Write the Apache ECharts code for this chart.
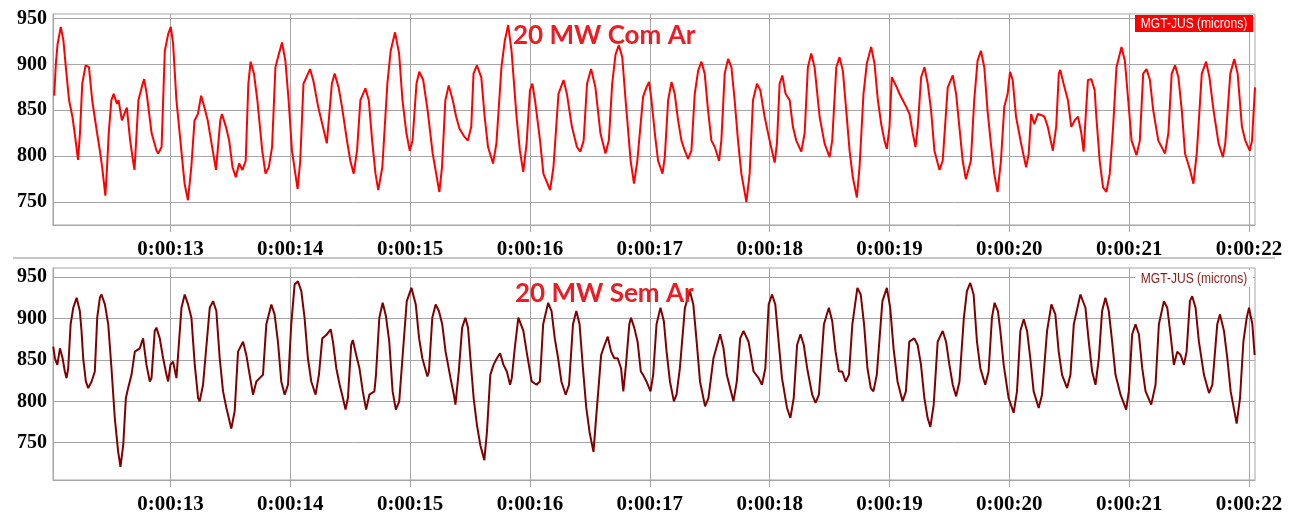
<!DOCTYPE html>
<html>
<head>
<meta charset="utf-8">
<title>MGT-JUS</title>
<script src="https://cdn.jsdelivr.net/npm/echarts@6/dist/echarts.min.js"></script>
<style>
  html, body { margin: 0; padding: 0; background: #ffffff; }
  #chart { width: 1298px; height: 518px; }
</style>
</head>
<body>
<div id="chart"></div>
<script>
// Shaft vibration, MGT-JUS probe, in microns, against elapsed time (seconds).
const tickSeconds = [13, 14, 15, 16, 17, 18, 19, 20, 21, 22];
const tickLabels = ['0:00:13', '0:00:14', '0:00:15', '0:00:16', '0:00:17',
                    '0:00:18', '0:00:19', '0:00:20', '0:00:21', '0:00:22'];
const valueTicks = [750, 800, 850, 900, 950];

const titles = ['20 MW Com Ar', '20 MW Sem Ar'];
const probeName = 'MGT-JUS (microns)';

// Upper trace: with air
const comAr = [
  [12.030,866],[12.044,901],[12.058,922],[12.085,941],[12.107,926],[12.127,897],[12.154,861],[12.182,843],[12.201,825],[12.229,796],
  [12.245,825],[12.264,879],[12.292,899],[12.320,897],[12.347,861],[12.388,825],[12.410,807],[12.430,788],[12.457,757],[12.471,788],
  [12.485,825],[12.507,861],[12.526,868],[12.554,857],[12.567,861],[12.595,839],[12.636,853],[12.664,817],[12.691,792],[12.700,785],
  [12.733,861],[12.760,875],[12.780,884],[12.802,868],[12.843,825],[12.884,806],[12.898,803],[12.926,810],[12.953,915],[12.981,933],
  [13.003,941],[13.022,923],[13.050,861],[13.091,806],[13.118,770],[13.146,752],[13.174,788],[13.201,839],[13.229,846],[13.256,866],
  [13.284,853],[13.311,839],[13.339,817],[13.380,785],[13.416,839],[13.430,846],[13.463,832],[13.490,817],[13.518,788],[13.545,777],
  [13.573,792],[13.601,785],[13.628,795],[13.650,879],[13.669,903],[13.697,890],[13.725,861],[13.766,806],[13.793,781],[13.821,788],
  [13.848,810],[13.876,897],[13.904,911],[13.931,924],[13.959,904],[13.986,861],[14.014,806],[14.061,764],[14.083,795],[14.110,879],
  [14.165,895],[14.193,882],[14.234,853],[14.305,814],[14.347,879],[14.370,890],[14.403,875],[14.431,854],[14.473,817],[14.501,795],
  [14.529,781],[14.557,806],[14.585,861],[14.627,874],[14.655,861],[14.683,817],[14.711,781],[14.734,763],[14.768,788],[14.810,879],
  [14.838,915],[14.874,935],[14.908,912],[14.936,861],[14.969,825],[14.997,806],[15.020,817],[15.053,879],[15.076,892],[15.109,883],
  [15.146,850],[15.188,803],[15.244,761],[15.266,788],[15.294,861],[15.322,877],[15.356,861],[15.384,843],[15.412,830],[15.454,821],
  [15.482,817],[15.510,832],[15.529,890],[15.557,899],[15.594,886],[15.622,843],[15.650,810],[15.692,792],[15.720,814],[15.762,897],
  [15.790,926],[15.818,943],[15.846,915],[15.888,843],[15.916,806],[15.944,783],[15.972,814],[16.000,872],[16.020,879],[16.042,861],
  [16.084,817],[16.112,781],[16.168,763],[16.196,788],[16.238,868],[16.280,883],[16.308,868],[16.350,832],[16.392,810],[16.420,805],
  [16.448,817],[16.476,879],[16.510,895],[16.546,875],[16.588,825],[16.630,803],[16.658,817],[16.686,879],[16.714,911],[16.742,921],
  [16.770,908],[16.798,861],[16.840,795],[16.868,770],[16.896,795],[16.944,865],[16.972,875],[16.994,881],[17.014,861],[17.042,825],
  [17.069,795],[17.106,781],[17.125,799],[17.153,861],[17.181,881],[17.208,868],[17.236,839],[17.264,817],[17.292,806],[17.319,797],
  [17.347,806],[17.375,868],[17.403,893],[17.431,903],[17.458,890],[17.486,850],[17.514,817],[17.542,810],[17.578,795],[17.597,817],
  [17.625,890],[17.653,906],[17.681,897],[17.708,861],[17.736,817],[17.764,781],[17.806,750],[17.833,781],[17.861,861],[17.894,879],
  [17.922,872],[17.958,843],[18.000,817],[18.042,793],[18.061,814],[18.083,879],[18.106,888],[18.133,868],[18.167,861],[18.194,832],
  [18.222,817],[18.264,805],[18.292,825],[18.319,897],[18.347,912],[18.375,897],[18.417,843],[18.458,814],[18.500,799],[18.522,817],
  [18.556,897],[18.583,908],[18.611,893],[18.639,850],[18.667,806],[18.694,777],[18.728,755],[18.750,788],[18.783,868],[18.811,901],
  [18.847,919],[18.875,901],[18.903,861],[18.931,835],[18.958,817],[18.978,808],[19.000,832],[19.019,886],[19.033,888],[19.061,875],
  [19.083,868],[19.111,861],[19.139,854],[19.167,846],[19.194,825],[19.217,810],[19.236,832],[19.264,886],[19.292,897],[19.319,879],
  [19.347,850],[19.375,806],[19.417,785],[19.444,795],[19.486,875],[19.528,888],[19.556,868],[19.583,832],[19.611,795],[19.637,775],
  [19.679,795],[19.707,861],[19.735,904],[19.763,915],[19.791,897],[19.818,850],[19.846,814],[19.874,781],[19.902,761],[19.930,795],
  [19.958,854],[19.986,868],[20.006,892],[20.028,883],[20.056,843],[20.098,814],[20.140,788],[20.162,803],[20.182,846],[20.209,835],
  [20.237,846],[20.265,845],[20.293,843],[20.321,832],[20.363,806],[20.391,832],[20.413,890],[20.425,894],[20.453,879],[20.489,861],
  [20.517,832],[20.545,839],[20.573,843],[20.601,825],[20.620,805],[20.637,843],[20.656,883],[20.684,884],[20.712,872],[20.726,843],
  [20.754,795],[20.782,766],[20.810,761],[20.838,781],[20.866,832],[20.894,897],[20.936,919],[20.964,904],[20.992,861],[21.020,817],
  [21.061,801],[21.089,817],[21.117,890],[21.145,895],[21.173,883],[21.201,850],[21.243,817],[21.299,803],[21.327,825],[21.355,890],
  [21.383,899],[21.411,886],[21.439,850],[21.466,803],[21.508,785],[21.536,770],[21.564,803],[21.606,890],[21.642,903],[21.670,886],
  [21.704,850],[21.746,814],[21.782,799],[21.802,814],[21.844,890],[21.877,906],[21.905,890],[21.941,832],[21.969,817],[22.006,806],
  [22.025,817],[22.050,875]
];

// Lower trace: without air
const semAr = [
  [12.022,866],[12.036,852],[12.056,844],[12.078,864],[12.100,852],[12.119,836],[12.133,828],[12.147,840],[12.167,893],[12.189,913],
  [12.217,925],[12.244,909],[12.258,885],[12.272,852],[12.294,824],[12.314,816],[12.342,824],[12.369,836],[12.389,901],[12.411,925],
  [12.425,929],[12.453,917],[12.481,893],[12.508,840],[12.536,779],[12.564,739],[12.583,721],[12.606,747],[12.628,804],[12.647,816],
  [12.675,832],[12.703,860],[12.744,864],[12.772,876],[12.800,844],[12.828,824],[12.842,828],[12.869,885],[12.883,889],[12.911,876],
  [12.939,852],[12.967,832],[12.981,824],[13.000,844],[13.022,848],[13.050,828],[13.092,913],[13.119,929],[13.147,917],[13.175,901],
  [13.203,844],[13.231,804],[13.244,800],[13.272,820],[13.328,913],[13.356,921],[13.383,909],[13.411,852],[13.439,812],[13.467,792],
  [13.508,767],[13.536,788],[13.564,860],[13.606,872],[13.633,856],[13.661,832],[13.689,808],[13.717,824],[13.744,828],[13.772,832],
  [13.800,893],[13.842,917],[13.869,905],[13.897,872],[13.925,824],[13.953,808],[13.981,820],[14.008,893],[14.036,941],[14.064,945],
  [14.092,933],[14.119,901],[14.147,852],[14.175,824],[14.211,808],[14.239,832],[14.267,876],[14.301,880],[14.337,887],[14.356,872],
  [14.384,840],[14.412,820],[14.439,804],[14.461,790],[14.481,804],[14.508,868],[14.522,874],[14.550,856],[14.577,840],[14.605,812],
  [14.633,790],[14.660,808],[14.702,812],[14.715,832],[14.743,901],[14.771,919],[14.798,903],[14.826,872],[14.854,812],[14.881,790],
  [14.909,800],[14.936,852],[14.972,921],[15.011,937],[15.047,917],[15.075,876],[15.102,852],[15.144,830],[15.157,836],[15.185,901],
  [15.213,917],[15.240,909],[15.268,893],[15.296,860],[15.337,828],[15.365,808],[15.378,796],[15.406,836],[15.434,889],[15.461,901],
  [15.483,889],[15.503,852],[15.530,804],[15.558,771],[15.586,747],[15.619,729],[15.641,763],[15.669,832],[15.696,844],[15.724,852],
  [15.751,858],[15.779,844],[15.807,836],[15.834,820],[15.848,828],[15.876,868],[15.903,901],[15.917,903],[15.945,885],[15.972,860],
  [16.014,824],[16.055,820],[16.083,824],[16.110,893],[16.152,919],[16.180,909],[16.207,876],[16.235,852],[16.262,824],[16.298,808],
  [16.326,820],[16.359,893],[16.387,909],[16.414,893],[16.442,840],[16.470,792],[16.497,763],[16.530,739],[16.552,780],[16.594,856],
  [16.622,868],[16.649,878],[16.677,860],[16.704,852],[16.732,852],[16.760,840],[16.779,812],[16.801,844],[16.829,893],[16.843,901],
  [16.870,889],[16.898,872],[16.925,836],[16.944,832],[16.972,824],[17.006,812],[17.028,832],[17.056,893],[17.089,913],[17.117,897],
  [17.140,860],[17.168,824],[17.201,800],[17.223,808],[17.251,840],[17.293,913],[17.335,933],[17.363,917],[17.391,872],[17.419,824],
  [17.461,794],[17.489,804],[17.531,852],[17.587,881],[17.615,864],[17.642,832],[17.698,800],[17.726,824],[17.754,876],[17.782,885],
  [17.824,872],[17.866,836],[17.908,828],[17.936,820],[17.964,840],[17.992,917],[18.020,929],[18.047,917],[18.075,872],[18.103,828],
  [18.145,792],[18.173,780],[18.201,804],[18.229,868],[18.257,881],[18.285,868],[18.313,840],[18.355,808],[18.383,798],[18.411,808],
  [18.453,893],[18.494,913],[18.522,897],[18.550,860],[18.578,836],[18.606,836],[18.634,824],[18.662,832],[18.690,893],[18.732,937],
  [18.760,929],[18.788,893],[18.816,840],[18.844,816],[18.866,812],[18.894,832],[18.941,921],[18.978,937],[19.006,913],[19.034,864],
  [19.067,824],[19.109,800],[19.137,812],[19.165,872],[19.207,876],[19.235,868],[19.263,844],[19.291,804],[19.318,780],[19.341,769],
  [19.369,796],[19.402,872],[19.444,885],[19.472,872],[19.500,844],[19.528,820],[19.556,806],[19.584,824],[19.620,900],[19.646,933],
  [19.674,943],[19.702,929],[19.730,872],[19.758,840],[19.799,820],[19.827,836],[19.855,901],[19.877,919],[19.905,909],[19.925,885],
  [19.953,844],[19.994,804],[20.036,786],[20.064,812],[20.092,885],[20.120,899],[20.148,885],[20.175,852],[20.203,812],[20.245,792],
  [20.273,808],[20.315,885],[20.351,917],[20.384,905],[20.412,860],[20.440,832],[20.482,816],[20.510,832],[20.538,893],[20.593,929],
  [20.635,913],[20.663,872],[20.691,836],[20.719,820],[20.747,852],[20.774,909],[20.802,925],[20.830,909],[20.858,872],[20.886,832],
  [20.928,808],[20.975,790],[20.997,812],[21.025,881],[21.053,893],[21.081,881],[21.109,840],[21.137,812],[21.184,796],[21.220,820],
  [21.248,893],[21.290,921],[21.318,913],[21.345,881],[21.373,844],[21.401,860],[21.429,856],[21.457,844],[21.479,860],[21.507,921],
  [21.526,927],[21.554,913],[21.582,872],[21.624,832],[21.666,810],[21.694,820],[21.735,893],[21.758,905],[21.791,885],[21.819,852],
  [21.847,812],[21.897,773],[21.925,804],[21.953,872],[21.981,901],[22.000,913],[22.028,893],[22.047,856]
];

const GRID = '#a6a6a6';
const SERIF = "'Liberation Serif', 'Times New Roman', serif";
const SANS = "'Liberation Sans', Arial, sans-serif";
const TITLE_FONT = "Lato, 'Open Sans', sans-serif";

const chart = echarts.init(document.getElementById('chart'), null, { renderer: 'canvas' });

function timeAxis(gridIndex) {
  return {
    type: 'value', gridIndex: gridIndex, min: 12.02, max: 22.05,
    axisLine: { show: true, onZero: false, lineStyle: { color: GRID, width: 1 } },
    axisTick: { show: true, length: 7, customValues: tickSeconds, lineStyle: { color: GRID, width: 1 } },
    axisLabel: {
      customValues: tickSeconds,
      formatter: function (v) { return tickLabels[tickSeconds.indexOf(Math.round(v))]; },
      fontFamily: SERIF, fontWeight: 'bold', fontSize: 21, color: '#000', margin: 14
    },
    splitLine: { show: true, lineStyle: { color: GRID, width: 1 } }
  };
}

function ampAxis(gridIndex, min, max) {
  return {
    type: 'value', gridIndex: gridIndex, min: min, max: max,
    axisLine: { show: true, onZero: false, lineStyle: { color: GRID, width: 1 } },
    axisTick: { show: false, customValues: valueTicks },
    axisLabel: {
      customValues: valueTicks,
      fontFamily: SERIF, fontWeight: 'bold', fontSize: 20, color: '#000', margin: 6
    },
    splitLine: { show: true, lineStyle: { color: GRID, width: 1 } }
  };
}

// probe tag: narrow sans text squeezed horizontally into a small box
function probeTag(top, boxFill, textFill) {
  return [
    { type: 'rect', z: 20, shape: { x: 1135, y: top, width: 118, height: 17 }, style: { fill: boxFill } },
    { type: 'text', z: 21, x: 1194, y: top + 9, scaleX: 0.86, scaleY: 1,
      style: { text: probeName, fill: textFill, font: '14px ' + SANS, align: 'center', verticalAlign: 'middle' } }
  ];
}

const option = {
  animation: false,
  backgroundColor: '#ffffff',
  grid: [
    { left: 53, right: 43, top: 14, height: 211, show: true, borderColor: GRID, borderWidth: 1, backgroundColor: 'transparent' },
    { left: 53, right: 43, top: 268, height: 212, show: true, borderColor: GRID, borderWidth: 1, backgroundColor: 'transparent' }
  ],
  xAxis: [timeAxis(0), timeAxis(1)],
  yAxis: [ampAxis(0, 725, 955), ampAxis(1, 705, 961)],
  series: [
    {
      name: titles[0], type: 'line', xAxisIndex: 0, yAxisIndex: 0, data: comAr,
      showSymbol: false, symbol: 'none', clip: true,
      lineStyle: { color: '#ff0000', width: 2 }
    },
    {
      name: titles[1], type: 'line', xAxisIndex: 1, yAxisIndex: 1, data: semAr,
      showSymbol: false, symbol: 'none', clip: true,
      lineStyle: { color: '#800000', width: 2 }
    }
  ],
  graphic: [
    // divider between the two panels
    { type: 'line', z: 10, shape: { x1: 13, y1: 258, x2: 1275, y2: 258 }, style: { stroke: '#b3b3b3', lineWidth: 1.5 } },
    // panel titles
    { type: 'text', z: 20, x: 513, y: 36, style: { text: titles[0], fill: '#ec1c24', font: 'bold 26px ' + TITLE_FONT, verticalAlign: 'middle' } },
    { type: 'text', z: 20, x: 515, y: 294, style: { text: titles[1], fill: '#ec1c24', font: 'bold 26px ' + TITLE_FONT, verticalAlign: 'middle' } }
  ].concat(probeTag(15, '#ff0000', '#ffffff'), probeTag(270, '#ffffff', '#8b1a1a'))
};

chart.setOption(option);
</script>
</body>
</html>
